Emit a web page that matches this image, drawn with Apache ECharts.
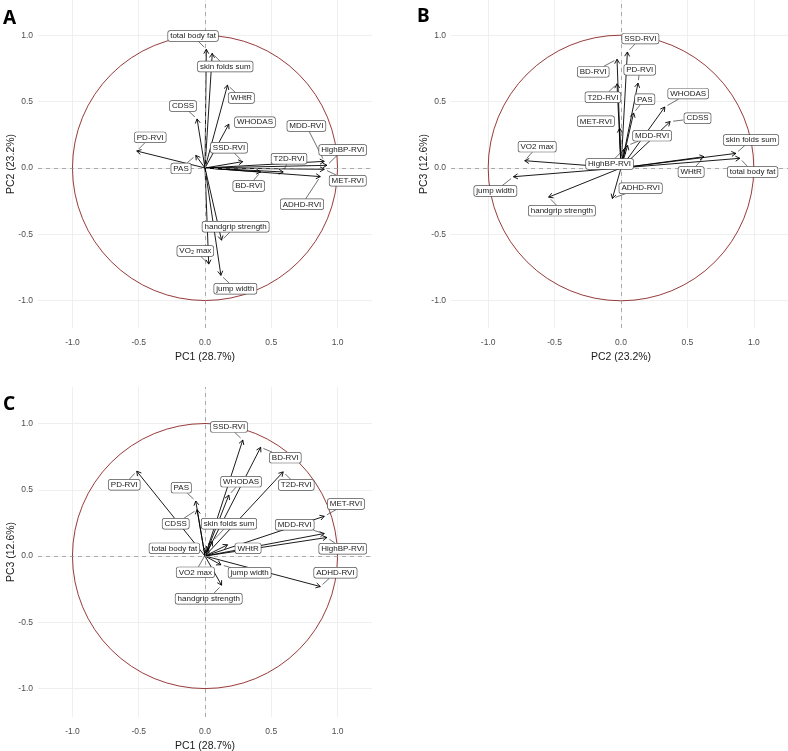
<!DOCTYPE html>
<html>
<head>
<meta charset="utf-8">
<script src="https://cdn.jsdelivr.net/npm/echarts@6/dist/echarts.min.js"></script>
<style>
html, body { margin: 0; padding: 0; background: #fff; }
#main { width: 788px; height: 751px; }
</style>
</head>
<body>
<div id="main"></div>
<script>
// loadings
var vars = ['PD-RVI', 'PAS', 'CDSS', 'WHODAS', 'SSD-RVI', 'BD-RVI', 'T2D-RVI', 'MDD-RVI', 'HighBP-RVI', 'MET-RVI', 'ADHD-RVI',
	'total body fat', 'skin folds sum', 'WHtR', 'handgrip strength', 'VO2 max', 'jump width']
var pc1 = [-0.515, -0.07, -0.06, 0.18, 0.285, 0.42, 0.59, 0.9, 0.92, 0.9, 0.87, 0.01, 0.055, 0.17, 0.125, 0.028, 0.12]
var pc2 = [0.128, 0.095, 0.37, 0.33, 0.048, -0.03, -0.03, 0.05, 0.02, -0.01, -0.065, 0.895, 0.865, 0.625, -0.545, -0.725, -0.81]
var pc3 = [0.64, 0.415, 0.35, 0.46, 0.875, 0.82, 0.635, 0.17, 0.14, 0.3, -0.23, 0.073, 0.11, 0.085, -0.22, 0.055, -0.066]
var axisTitles = ['PC1 (28.7%)', 'PC2 (23.2%)', 'PC3 (12.6%)']
var ticks = [-1, -0.5, 0, 0.5, 1]

// repelled label spots (layout only, same order as vars)
var labelPosA = [[-0.413, 0.231], [-0.181, -0.003], [-0.166, 0.468], [0.377, 0.345], [0.181, 0.153], [0.33, -0.136], [0.634, 0.07],
	[0.765, 0.317], [1.039, 0.136], [1.077, -0.096], [0.732, -0.274], [-0.09, 0.996], [0.153, 0.765], [0.274, 0.528],
	[0.231, -0.443], [-0.073, -0.626], [0.229, -0.911]]
var labelPosB = [[0.141, 0.74], [0.179, 0.518], [0.576, 0.375], [0.506, 0.561], [0.146, 0.976], [-0.209, 0.725], [-0.136, 0.533],
	[0.234, 0.244], [-0.086, 0.03], [-0.189, 0.352], [0.148, -0.153], [0.991, -0.03], [0.979, 0.211], [0.528, -0.03],
	[-0.445, -0.322], [-0.631, 0.161], [-0.946, -0.174]]
var labelPosC = [[-0.609, 0.538], [-0.179, 0.516], [-0.221, 0.244], [0.272, 0.561], [0.181, 0.974], [0.606, 0.742], [0.689, 0.536],
	[0.677, 0.236], [1.039, 0.055], [1.064, 0.392], [0.984, -0.126], [-0.231, 0.058], [0.181, 0.244], [0.325, 0.058],
	[0.028, -0.322], [-0.073, -0.123], [0.337, -0.126]]

var FONT = '"Liberation Sans", Arial, sans-serif'
var LABEL_FONT = '8px ' + FONT

var panels = [
	{ letter: 'A', pos: [3, 19], xs: pc1, ys: pc2, xt: 0, yt: 1, lab: labelPosA, names: vars.map(n => n === 'VO2 max' ? 'VO\u2082 max' : n),
		grid: { left: 38, top: 0, width: 334, height: 328 }, xr: [-1.26, 1.26], yr: [-1.207, 1.267] },
	{ letter: 'B', pos: [417, 17], xs: pc2, ys: pc3, xt: 1, yt: 2, lab: labelPosB, names: vars,
		grid: { left: 451, top: 0, width: 340, height: 328 }, xr: [-1.28, 1.28], yr: [-1.207, 1.267] },
	{ letter: 'C', pos: [3, 405], xs: pc1, ys: pc3, xt: 0, yt: 2, lab: labelPosC, names: vars,
		grid: { left: 38, top: 387, width: 334, height: 330 }, xr: [-1.26, 1.26], yr: [-1.214, 1.275] },
]

var ctx = document.createElement('canvas').getContext('2d')
ctx.font = LABEL_FONT
function textW(s) { return ctx.measureText(s).width }

function renderCircle(params, api) {
	var c = api.coord([0, 0])
	var r = api.size([1, 1])[0]
	return { type: 'circle', shape: { cx: c[0], cy: c[1], r: r }, style: { stroke: '#8b2525', fill: null, lineWidth: 0.9 } }
}

function renderArrow(params, api) {
	var p0 = api.coord([0, 0])
	var p1 = api.coord([api.value(0), api.value(1)])
	var dx = p1[0] - p0[0], dy = p1[1] - p0[1]
	var len = Math.sqrt(dx * dx + dy * dy) || 1
	var ux = dx / len, uy = dy / len
	var h = 5, c = Math.cos(Math.PI / 6), s = Math.sin(Math.PI / 6)
	var l = [p1[0] - h * (ux * c - uy * s), p1[1] - h * (uy * c + ux * s)]
	var r = [p1[0] - h * (ux * c + uy * s), p1[1] - h * (uy * c - ux * s)]
	return {
		type: 'group',
		children: [
			{ type: 'line', shape: { x1: p0[0], y1: p0[1], x2: p1[0], y2: p1[1] }, style: { stroke: '#000', lineWidth: 0.9 } },
			{ type: 'polyline', shape: { points: [l, p1, r] }, style: { stroke: '#000', fill: null, lineWidth: 0.9 } },
		],
	}
}

function labelRenderer(names) {
	return function (params, api) {
		var name = names[params.dataIndex]
		var c = api.coord([api.value(0), api.value(1)])
		var t = api.coord([api.value(2), api.value(3)])
		var hw = textW(name) / 2 + 3, hh = 5.5
		var dx = t[0] - c[0], dy = t[1] - c[1]
		var dist = Math.sqrt(dx * dx + dy * dy)
		var sx = dx ? hw / Math.abs(dx) : Infinity
		var sy = dy ? hh / Math.abs(dy) : Infinity
		var se = Math.min(sx, sy)
		var sf = dist > 0 ? 1 - 3 / dist : 0
		var children = []
		if (se < 1 && (sf - se) * dist > 4) {
			children.push({
				type: 'line',
				shape: { x1: c[0] + dx * se, y1: c[1] + dy * se, x2: c[0] + dx * sf, y2: c[1] + dy * sf },
				style: { stroke: '#333', lineWidth: 0.7 },
			})
		}
		children.push({
			type: 'text', x: c[0], y: c[1],
			style: {
				text: name, font: LABEL_FONT, fill: '#1a1a1a', align: 'center', verticalAlign: 'middle',
				backgroundColor: '#fff', borderColor: '#555', borderWidth: 0.7, borderRadius: 2, padding: [1, 2, 1, 2],
			},
		})
		return { type: 'group', children: children }
	}
}

var grids = [], xAxes = [], yAxes = [], series = [], graphics = []
panels.forEach(function (p, i) {
	grids.push(Object.assign({ outerBoundsMode: 'none', containLabel: false }, p.grid))
	var common = {
		gridIndex: i, type: 'value',
		nameLocation: 'middle', nameMoveOverlap: false,
		nameTextStyle: { fontSize: 10.5, color: '#1a1a1a', fontFamily: FONT },
		axisLine: { show: false },
		axisTick: { show: false, customValues: ticks },
		axisLabel: { customValues: ticks, formatter: v => v.toFixed(1), fontSize: 8.5, color: '#4d4d4d', fontFamily: FONT },
		splitLine: { show: true, lineStyle: { color: '#ebebeb', width: 0.8 } },
	}
	xAxes.push(Object.assign({}, common, {
		min: p.xr[0], max: p.xr[1], name: axisTitles[p.xt], nameGap: 24,
		axisLabel: Object.assign({}, common.axisLabel, { margin: 10 }),
	}))
	yAxes.push(Object.assign({}, common, {
		min: p.yr[0], max: p.yr[1], name: axisTitles[p.yt], nameGap: 21,
		axisLabel: Object.assign({}, common.axisLabel, { margin: 5 }),
	}))
	series.push({
		type: 'custom', xAxisIndex: i, yAxisIndex: i, z: 1, silent: true,
		renderItem: renderCircle, data: [[0, 0]],
		markLine: {
			silent: true, symbol: ['none', 'none'], label: { show: false },
			lineStyle: { color: '#9a9a9a', type: [4, 4], width: 0.8 },
			data: [{ xAxis: 0 }, { yAxis: 0 }],
		},
	})
	series.push({
		type: 'custom', xAxisIndex: i, yAxisIndex: i, z: 3, silent: true,
		renderItem: renderArrow,
		data: p.xs.map((x, k) => [x, p.ys[k]]),
	})
	series.push({
		type: 'custom', xAxisIndex: i, yAxisIndex: i, z: 5, silent: true,
		renderItem: labelRenderer(p.names),
		data: p.lab.map((l, k) => [l[0], l[1], p.xs[k], p.ys[k]]),
	})
	graphics.push({
		type: 'text', x: p.pos[0], y: p.pos[1],
		style: { text: p.letter, font: 'bold 19px "Noto Sans", sans-serif', fill: '#000', verticalAlign: 'middle' },
	})
})

var myChart = echarts.init(document.getElementById('main'), null, { renderer: 'canvas' })
myChart.setOption({
	animation: false,
	grid: grids,
	xAxis: xAxes,
	yAxis: yAxes,
	series: series,
	graphic: graphics,
})
</script>
</body>
</html>
